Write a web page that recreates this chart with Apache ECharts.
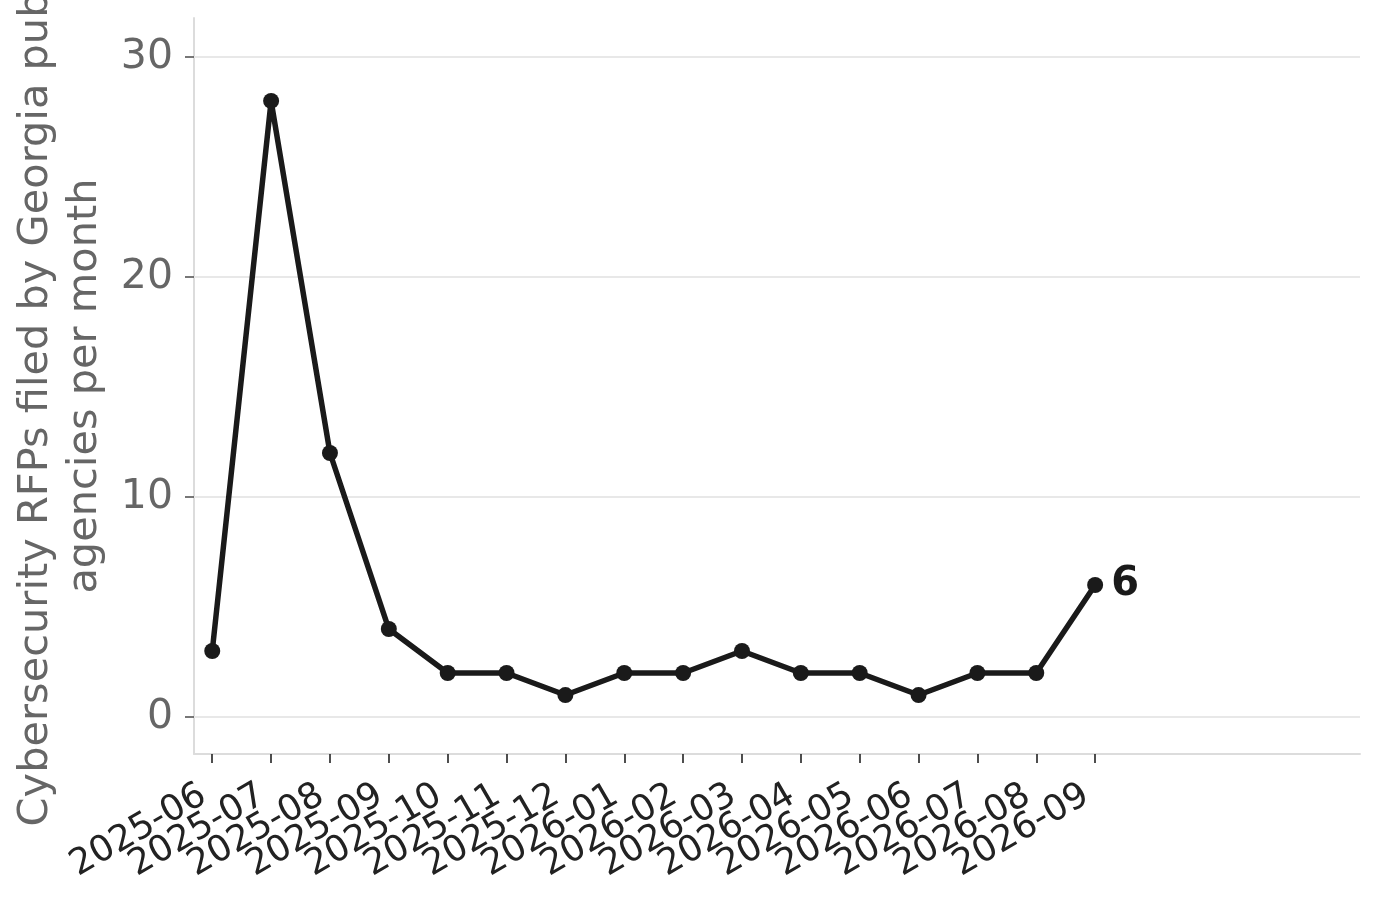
<!DOCTYPE html>
<html>
<head>
<meta charset="utf-8">
<script src="https://cdn.jsdelivr.net/npm/echarts@6/dist/echarts.min.js"></script>
<style>
html,body{margin:0;padding:0;background:#fff;}
#chart{width:1380px;height:899px;}
</style>
</head>
<body>
<div id="chart"></div>
<script>
const months = ['2025-06','2025-07','2025-08','2025-09','2025-10','2025-11','2025-12','2026-01','2026-02','2026-03','2026-04','2026-05','2026-06','2026-07','2026-08','2026-09'];
const rfps = [3, 28, 12, 4, 2, 2, 1, 2, 2, 3, 2, 2, 1, 2, 2, 6];
const yTicks = [0, 10, 20, 30];
const yTitle = 'Cybersecurity RFPs filed by Georgia public\nagencies per month';

const xMin = -0.31, xMax = 19.5;
const idx = months.map((m, i) => i);
// hidden guard entries at both ends so ECharts' min/max-label overlap check never drops a real month
const xCustom = [xMin + 0.01].concat(idx, [xMax - 0.1]);
const lastIdx = rfps.length - 1;
const seriesData = rfps.map((v, i) => {
  const item = { value: [i, v] };
  if (i === lastIdx) {
    item.label = {
      show: true, position: 'right', distance: 8,
      formatter: String(v), fontSize: 40, fontWeight: 'bold', color: '#1a1a1a',
      fontFamily: 'DejaVu Sans'
    };
  }
  return item;
});

const chart = echarts.init(document.getElementById('chart'), null, { renderer: 'canvas' });
chart.setOption({
  animation: false,
  backgroundColor: '#ffffff',
  textStyle: { fontFamily: 'DejaVu Sans' },
  grid: { left: 194, right: 20, top: 18, bottom: 145, containLabel: false, outerBoundsMode: 'none' },
  xAxis: {
    type: 'value', min: xMin, max: xMax,
    axisLine: { show: true, onZero: false, lineStyle: { color: '#dcdcdc', width: 2 } },
    axisTick: { show: true, length: 9, customValues: xCustom, lineStyle: { color: '#222', width: 1.6 } },
    axisLabel: {
      show: true, customValues: xCustom, rotate: 30, margin: 34, padding: [0, 10, 0, 0],
      showMinLabel: false, showMaxLabel: false, hideOverlap: false,
      formatter: (v) => { const k = Math.round(v); return (Math.abs(v - k) < 1e-6 && months[k]) ? months[k] : ''; },
      fontSize: 36, color: '#222', fontFamily: 'DejaVu Sans'
    },
    splitLine: { show: false }
  },
  yAxis: {
    type: 'value', min: -1.68, max: 31.77,
    name: yTitle, nameLocation: 'middle', nameRotate: 90, nameGap: 68,
    nameTextStyle: { fontSize: 41.5, lineHeight: 49, color: '#666', fontFamily: 'DejaVu Sans' },
    axisLine: { show: true, onZero: false, lineStyle: { color: '#dcdcdc', width: 2 } },
    axisTick: { show: true, length: 9, customValues: yTicks, lineStyle: { color: '#555', width: 1.6 } },
    axisLabel: {
      show: true, customValues: yTicks, margin: 21, padding: [5, 0, 0, 0],
      showMinLabel: true, showMaxLabel: true,
      fontSize: 41, color: '#666', fontFamily: 'DejaVu Sans'
    },
    splitLine: { show: false }
  },
  series: [{
    type: 'line',
    data: seriesData,
    symbol: 'circle', symbolSize: 16,
    lineStyle: { color: '#1a1a1a', width: 5.5 },
    itemStyle: { color: '#1a1a1a' },
    z: 3,
    markLine: {
      silent: true, symbol: 'none', z: 1,
      label: { show: false },
      lineStyle: { color: '#e8e8e8', width: 2, type: 'solid' },
      data: yTicks.map(t => ({ yAxis: t }))
    }
  }]
});
</script>
</body>
</html>
